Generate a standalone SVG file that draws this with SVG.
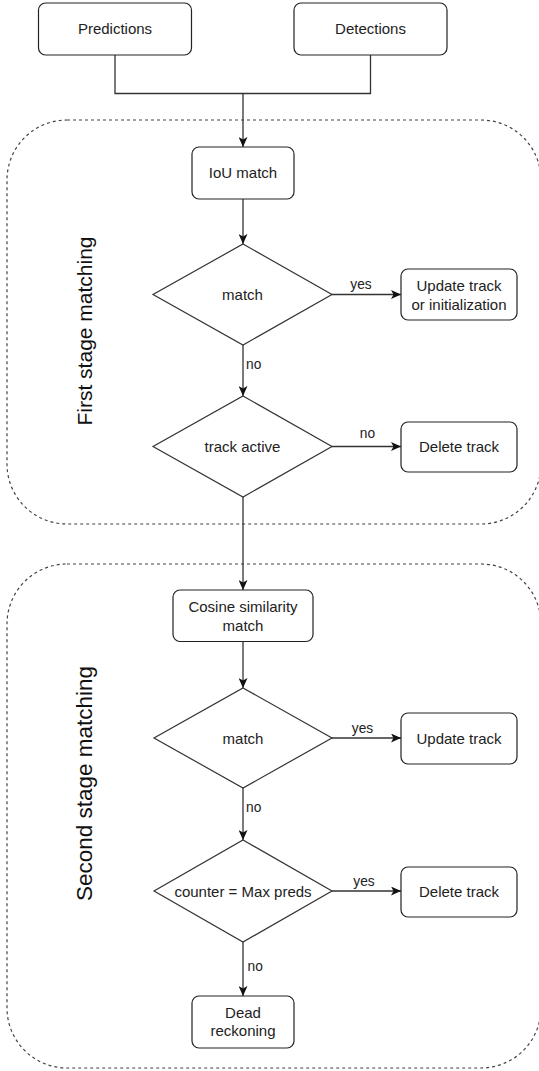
<svg xmlns="http://www.w3.org/2000/svg" width="539" height="1071" viewBox="0 0 539 1071">
<style>
  .box { fill: #ffffff; stroke: #222; stroke-width: 1.2; }
  .dia { fill: #ffffff; stroke: #333; stroke-width: 1.2; }
  .cont { fill: none; stroke: #444; stroke-width: 1.2; stroke-dasharray: 3 3; }
  .t { font-family: "Liberation Sans", Arial, sans-serif; font-size: 15px; fill: #222; text-anchor: middle; }
  .lbl { font-family: "Liberation Sans", Arial, sans-serif; font-size: 13.75px; fill: #222; }
  .big { font-family: "Liberation Sans", Arial, sans-serif; fill: #111; text-anchor: middle; }
  .edge { fill: none; stroke: #333; stroke-width: 1.3; }
</style>
<defs>
  <marker id="arr" viewBox="0 0 10 9" refX="10" refY="4.5" markerWidth="10" markerHeight="9" markerUnits="userSpaceOnUse" orient="auto">
    <path d="M0,0 L10,4.5 L0,9 L2.5,4.5 z" fill="#111"/>
  </marker>
</defs>
<rect width="539" height="1071" fill="#ffffff"/>

<g id="containers">
  <g id="first-stage">
    <rect class="cont" x="7" y="120" width="534" height="404" rx="60" ry="60"/>
    <text class="big" font-size="21" transform="translate(91.5,331) rotate(-90)">First stage matching</text>
  </g>
  <g id="second-stage">
    <rect class="cont" x="7" y="564" width="534" height="504" rx="60" ry="60"/>
    <text class="big" font-size="22.5" transform="translate(91.5,783.5) rotate(-90)">Second stage matching</text>
  </g>
</g>

<g id="connectors">
  <path class="edge" d="M115,55 V93.5 H370.5 V55"/>
  <path class="edge" d="M243,93.5 V147" marker-end="url(#arr)"/>
  <path class="edge" d="M243,199 V244" marker-end="url(#arr)"/>
  <path class="edge" d="M243,345 V396" marker-end="url(#arr)"/>
  <path class="edge" d="M243,497 V590" marker-end="url(#arr)"/>
  <path class="edge" d="M243,641.5 V688" marker-end="url(#arr)"/>
  <path class="edge" d="M243,788 V840" marker-end="url(#arr)"/>
  <path class="edge" d="M243,942 V996" marker-end="url(#arr)"/>
  <path class="edge" d="M332,294.5 H401" marker-end="url(#arr)"/>
  <path class="edge" d="M332,446.5 H401" marker-end="url(#arr)"/>
  <path class="edge" d="M332,738 H401" marker-end="url(#arr)"/>
  <path class="edge" d="M332,891 H401" marker-end="url(#arr)"/>
  <text class="lbl" x="361" y="289" text-anchor="middle">yes</text>
  <text class="lbl" x="246" y="369">no</text>
  <text class="lbl" x="367.5" y="438" text-anchor="middle">no</text>
  <text class="lbl" x="362.5" y="733" text-anchor="middle">yes</text>
  <text class="lbl" x="246" y="811.5">no</text>
  <text class="lbl" x="364" y="886" text-anchor="middle">yes</text>
  <text class="lbl" x="247.5" y="970.5">no</text>
</g>

<g id="predictions">
  <rect class="box" x="38.5" y="3" width="153" height="52" rx="7"/>
  <text class="t" x="115" y="33.5">Predictions</text>
</g>
<g id="detections">
  <rect class="box" x="294" y="3" width="153" height="52" rx="7"/>
  <text class="t" x="370.5" y="33.5">Detections</text>
</g>
<g id="iou-match">
  <rect class="box" x="192" y="147" width="102" height="52" rx="7"/>
  <text class="t" x="243" y="178">IoU match</text>
</g>
<g id="match1">
  <polygon class="dia" points="243,244 332,294.5 243,345 153,294.5"/>
  <text class="t" x="242.5" y="299.5">match</text>
</g>
<g id="update-init">
  <rect class="box" x="401" y="269" width="116" height="51" rx="7"/>
  <text class="t" x="459" y="290.5">Update track</text>
  <text class="t" x="459" y="309.5">or initialization</text>
</g>
<g id="track-active">
  <polygon class="dia" points="243,396 332,446.5 243,497 153,446.5"/>
  <text class="t" x="242.5" y="451.5">track active</text>
</g>
<g id="delete1">
  <rect class="box" x="401" y="422" width="116" height="50" rx="7"/>
  <text class="t" x="459" y="451.5">Delete track</text>
</g>
<g id="cosine">
  <rect class="box" x="173" y="590" width="140" height="51.5" rx="7"/>
  <text class="t" x="243" y="611.5">Cosine similarity</text>
  <text class="t" x="243" y="630.5">match</text>
</g>
<g id="match2">
  <polygon class="dia" points="243,688 332,738 243,788 154,738"/>
  <text class="t" x="243" y="743.5">match</text>
</g>
<g id="update2">
  <rect class="box" x="401" y="713" width="116" height="51" rx="7"/>
  <text class="t" x="459" y="743.5">Update track</text>
</g>
<g id="counter">
  <polygon class="dia" points="243,840 332,891 243,942 154,891"/>
  <text class="t" x="243" y="896.5">counter = Max preds</text>
</g>
<g id="delete2">
  <rect class="box" x="401" y="867" width="116" height="50" rx="7"/>
  <text class="t" x="459" y="896.5">Delete track</text>
</g>
<g id="dead-reckoning">
  <rect class="box" x="192" y="996" width="102" height="52" rx="7"/>
  <text class="t" x="243" y="1017.5">Dead</text>
  <text class="t" x="243" y="1036">reckoning</text>
</g>
</svg>
